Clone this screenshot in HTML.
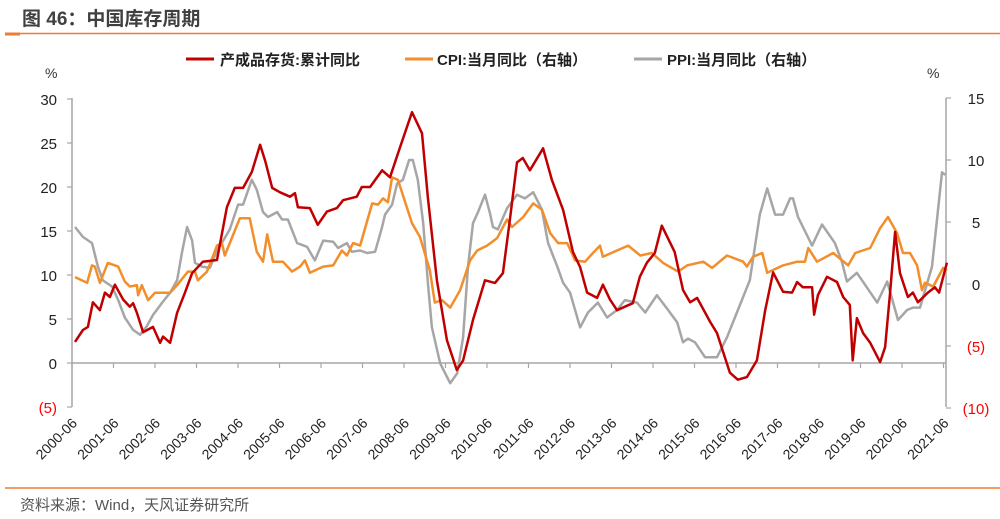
<!DOCTYPE html>
<html><head><meta charset="utf-8"><style>
body{margin:0;background:#fff;}
svg{display:block;font-family:"Liberation Sans","Noto Sans CJK SC",sans-serif;}
</style></head><body>
<svg id="chart" width="1000" height="519" viewBox="0 0 1000 519">
<text x="22" y="25" font-size="19" font-weight="bold" fill="#404040">图 46：中国库存周期</text>
<line x1="5" y1="33.5" x2="1000" y2="33.5" stroke="#ED7D31" stroke-width="1.5"/>
<line x1="5" y1="34" x2="20" y2="34" stroke="#ED7D31" stroke-width="3"/>
<g>
 <g><line x1="186" y1="59" x2="214" y2="59" stroke="#C00000" stroke-width="3"/><text x="220" y="65" font-size="15" font-weight="bold" fill="#222">产成品存货:累计同比</text></g>
 <g><line x1="405" y1="59" x2="433" y2="59" stroke="#F28E2B" stroke-width="3"/><text x="437" y="65" font-size="15" font-weight="bold" fill="#222">CPI:当月同比（右轴）</text></g>
 <g><line x1="634" y1="59" x2="662" y2="59" stroke="#A6A6A6" stroke-width="3"/><text x="667" y="65" font-size="15" font-weight="bold" fill="#222">PPI:当月同比（右轴）</text></g>
</g>
<text x="45" y="78" font-size="14" fill="#333">%</text>
<text x="927" y="78" font-size="14" fill="#333">%</text>
<g id="axes"></g>
<g id="series"></g>
<line x1="5" y1="488" x2="1000" y2="488" stroke="#ED7D31" stroke-width="1.5"/>
<text x="20" y="510" font-size="15" fill="#555">资料来源：Wind，天风证券研究所</text>
</svg>
<script>
const leftTicks=[30,25,20,15,10,5,0,-5];
const rightTicks=[15,10,5,0,-5,-10];
const yearLabels=["2000-06","2001-06","2002-06","2003-06","2004-06","2005-06","2006-06","2007-06","2008-06","2009-06","2010-06","2011-06","2012-06","2013-06","2014-06","2015-06","2016-06","2017-06","2018-06","2019-06","2020-06","2021-06"];
const invDates=[2000.49,2000.68,2000.80,2000.92,2001.09,2001.21,2001.33,2001.45,2001.65,2001.81,2001.89,2001.98,2002.13,2002.37,2002.54,2002.61,2002.78,2002.95,2003.14,2003.31,2003.57,2003.91,2004.15,2004.34,2004.54,2004.75,2004.95,2005.07,2005.24,2005.43,2005.67,2005.79,2005.86,2006.15,2006.34,2006.56,2006.80,2006.95,2007.28,2007.40,2007.60,2007.89,2008.08,2008.32,2008.61,2008.85,2008.99,2009.21,2009.45,2009.69,2009.84,2010.08,2010.37,2010.61,2010.80,2010.97,2011.14,2011.28,2011.45,2011.77,2011.98,2012.25,2012.49,2012.66,2012.83,2013.07,2013.21,2013.38,2013.55,2013.93,2014.10,2014.27,2014.46,2014.63,2014.94,2015.14,2015.31,2015.48,2015.79,2015.96,2016.27,2016.46,2016.68,2016.92,2017.12,2017.31,2017.55,2017.77,2017.89,2018.03,2018.25,2018.30,2018.39,2018.61,2018.85,2019.00,2019.16,2019.23,2019.33,2019.48,2019.65,2019.89,2020.01,2020.13,2020.25,2020.37,2020.56,2020.68,2020.80,2021.04,2021.21,2021.31,2021.50];
const invValues=[2.4,3.75,4.1,6.9,6,8,7.5,8.9,7.2,6.4,6.8,5.7,3.5,4.1,2.3,3,2.3,5.7,8,10.2,11.5,11.7,17.7,19.9,19.9,21.7,24.8,23,19.9,19.4,18.9,19.3,17.7,17.6,15.7,17.2,17.6,18.5,18.9,20,20,21.9,21.1,24.5,28.5,26.1,18.9,9.4,2.6,-0.8,0.3,4.9,9.4,9.1,10.2,16.3,22.8,23.3,21.9,24.4,20.8,17.4,12.6,10.9,8,7.4,8.9,7.2,6,6.8,9.8,11.4,12.5,15.6,12.6,8.3,6.9,7.4,4.7,3.4,-1.1,-1.9,-1.6,0.3,6,10.3,8.1,8,9.2,8.6,8.6,5.5,7.7,9.8,9.2,7.5,6.6,0.3,5.1,3.4,2.3,0.1,1.8,8,14.9,10.2,7.5,8,6.9,8,8.6,8,11.4];
const cpiDates=[2000.49,2000.78,2000.90,2000.97,2001.09,2001.28,2001.53,2001.69,2001.81,2001.98,2002.01,2002.10,2002.25,2002.42,2002.61,2002.78,2002.95,2003.09,2003.21,2003.38,2003.45,2003.67,2003.91,2004.03,2004.10,2004.22,2004.46,2004.70,2004.87,2005.02,2005.12,2005.26,2005.50,2005.72,2005.91,2006.03,2006.15,2006.47,2006.71,2006.92,2007.04,2007.19,2007.36,2007.65,2007.79,2007.91,2008.03,2008.13,2008.27,2008.61,2008.80,2009.04,2009.16,2009.33,2009.53,2009.77,2010.01,2010.18,2010.42,2010.66,2010.90,2011.02,2011.29,2011.53,2011.74,2011.94,2012.13,2012.35,2012.54,2012.78,2012.97,2013.14,2013.21,2013.55,2013.82,2014.11,2014.39,2014.66,2015.02,2015.24,2015.63,2015.84,2016.20,2016.59,2016.68,2016.83,2017.05,2017.17,2017.55,2017.89,2018.08,2018.16,2018.37,2018.76,2019.12,2019.29,2019.65,2019.89,2020.08,2020.30,2020.44,2020.61,2020.78,2020.90,2020.97,2021.17,2021.41,2021.50];
const cpiValues=[0.56,0.1,1.5,1.4,0.1,1.7,1.4,0.2,-0.2,-0.1,-0.9,-0.1,-1.3,-0.7,-0.7,-0.7,-0.1,0.5,1,1,0.3,1,3.1,3.3,2.3,3.3,5.3,5.3,2.6,1.8,4,1.8,1.8,1,1.4,1.9,0.9,1.4,1.5,2.7,2.3,3.3,3.1,6.5,6.4,6.9,6.6,8.6,8.4,4.9,3.8,1.1,-1.5,-1.3,-1.9,-0.5,1.9,2.7,3.1,3.7,5.2,4.6,5.4,6.5,6,4.1,3.3,3.3,1.9,1.8,2.5,3.1,2.2,2.7,3.1,2.3,2.5,1.7,1.0,1.5,1.8,1.3,2.3,1.8,1.4,2.2,2.5,0.9,1.5,1.8,1.8,2.9,1.8,2.5,1.5,2.5,2.9,4.5,5.4,4.1,2.5,2.5,1.5,-0.5,0.1,-0.2,1.3,1.1];
const ppiDates=[2000.49,2000.68,2000.90,2001.04,2001.16,2001.38,2001.53,2001.69,2001.89,2002.06,2002.22,2002.37,2002.59,2002.78,2002.95,2003.07,2003.19,2003.31,2003.38,2003.55,2003.74,2003.91,2004.06,2004.22,2004.42,2004.54,2004.75,2004.87,2005.02,2005.14,2005.36,2005.48,2005.62,2005.84,2006.08,2006.27,2006.47,2006.71,2006.83,2007.04,2007.16,2007.36,2007.53,2007.72,2007.89,2007.96,2008.13,2008.25,2008.39,2008.54,2008.63,2008.75,2008.88,2009.00,2009.09,2009.29,2009.53,2009.70,2009.84,2009.96,2010.08,2010.20,2010.37,2010.49,2010.56,2010.68,2010.90,2011.14,2011.33,2011.53,2011.74,2011.89,2012.11,2012.25,2012.42,2012.66,2012.85,2013.09,2013.31,2013.55,2013.74,2014.03,2014.23,2014.51,2014.78,2015.00,2015.14,2015.26,2015.43,2015.67,2015.96,2016.20,2016.39,2016.75,2016.99,2017.17,2017.36,2017.55,2017.72,2017.79,2017.91,2018.25,2018.49,2018.80,2018.97,2019.09,2019.33,2019.82,2020.06,2020.32,2020.54,2020.68,2020.85,2021.14,2021.38,2021.46];
const ppiValues=[4.6,3.8,3.3,1.4,0.3,-0.2,-1.3,-2.7,-3.7,-4.1,-3.4,-2.5,-1.5,-0.7,0.3,2.6,4.6,3.5,1.7,1.4,1.3,2.7,3.5,4.4,6.4,6.4,8.4,7.6,5.8,5.4,5.8,5.2,5.2,3.3,3,1.9,3.5,3.4,2.9,3.3,2.6,2.7,2.5,2.6,4.6,5.6,6.4,8.1,8.4,10,10,8.4,4.9,-0.2,-3.5,-6.4,-8,-7.2,-4.3,1.4,4.9,5.8,7.2,5.7,4.6,4.4,6.1,7.2,6.9,7.4,6,3.3,1.4,0.1,-0.7,-3.5,-2.3,-1.5,-2.7,-2.1,-1.3,-1.5,-2.3,-0.9,-2.1,-3.1,-4.7,-4.4,-4.7,-5.9,-5.9,-4.3,-2.7,0.3,5.6,7.7,5.6,5.6,6.9,6.9,5.4,3.1,4.8,3.3,1.8,0.2,0.9,-1.5,0.2,-2.9,-2.1,-1.9,-1.9,1.4,9,8.8];

const NS="http://www.w3.org/2000/svg";
const X0=72, PXY=41.5, T0=2000.417;
function xs(t){return X0+(t-T0)*PXY;}
function yl(v){return 363-v*8.8;}
function yr(v){return 284-v*12.4;}
function mk(tag,attrs,parent){const e=document.createElementNS(NS,tag);for(const k in attrs)e.setAttribute(k,attrs[k]);parent.appendChild(e);return e;}
const axes=document.getElementById('axes');
const ser=document.getElementById('series');
const ax='#A6A6A6';
let l=mk('line',{x1:72,y1:98,x2:72,y2:407,stroke:ax,'stroke-width':1.5},axes);


l=mk('line',{x1:946,y1:98,x2:946,y2:407,stroke:ax,'stroke-width':1.5},axes);


l=mk('line',{x1:72,y1:363,x2:946,y2:363,stroke:ax,'stroke-width':1.5},axes);


leftTicks.forEach(v=>{
 const y=yl(v);
 mk('line',{x1:67,y1:y,x2:72,y2:y,stroke:ax,'stroke-width':1.2},axes);
 const t=mk('text',{x:57,y:y+6,'font-size':15,'text-anchor':'end',fill:v<0?'#FF0000':'#222'},axes);
 t.textContent=v<0?'('+(-v)+')':String(v);
 
 
});
rightTicks.forEach(v=>{
 const y=yr(v);
 mk('line',{x1:946,y1:y,x2:951,y2:y,stroke:ax,'stroke-width':1.2},axes);
 const t=mk('text',{x:976,y:y+6,'font-size':15,'text-anchor':'middle',fill:v<0?'#FF0000':'#222'},axes);
 t.textContent=v<0?'('+(-v)+')':String(v);
 
 
});
yearLabels.forEach((s,i)=>{
 const x=X0+i*PXY;
 mk('line',{x1:x,y1:363,x2:x,y2:368,stroke:ax,'stroke-width':1.2},axes);
 const t=mk('text',{x:x+6,y:424,'font-size':14,'text-anchor':'end',fill:'#222',transform:'rotate(-45 '+(x+6)+' 424)'},axes);
 t.textContent=s;
 
 
});
function line(dates,vals,yf,color,name){
 const n=Math.min(dates.length,vals.length);
 let d='';
 for(let i=0;i<n;i++){d+=(i?'L':'M')+xs(dates[i]).toFixed(1)+','+yf(vals[i]).toFixed(1);}
 const p=mk('path',{d:d,fill:'none',stroke:color,'stroke-width':2.5,'stroke-linejoin':'round'},ser);
 
 
}
line(ppiDates,ppiValues,yr,'#A6A6A6','ppi-line');
line(cpiDates,cpiValues,yr,'#F28E2B','cpi-line');
line(invDates,invValues,yl,'#C00000','inventory-line');
</script>
</body></html>
